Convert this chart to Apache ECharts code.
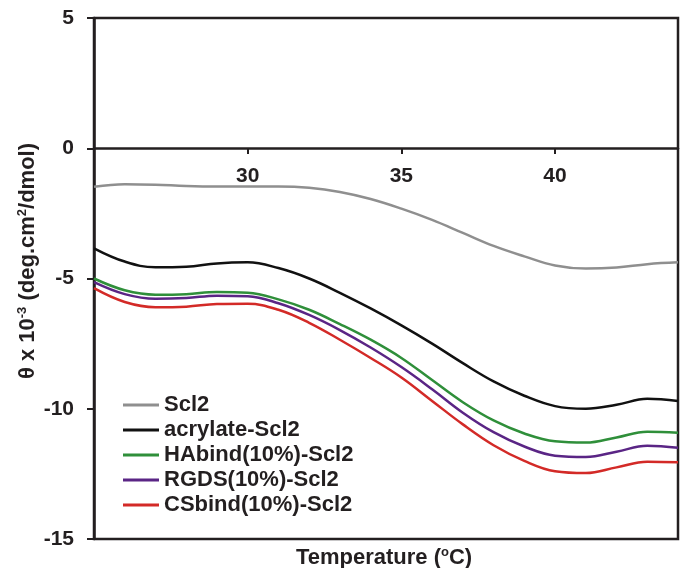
<!DOCTYPE html>
<html>
<head>
<meta charset="utf-8">
<script src="https://cdn.jsdelivr.net/npm/echarts@6/dist/echarts.min.js"></script>
<style>
  html, body { margin: 0; padding: 0; background: #fff; }
  #chart-container { width: 683px; height: 568px; }
</style>
</head>
<body>
<div id="chart-container"></div>
<script>
// temperature (oC), one reading per degree
var temps = [25, 26, 27, 28, 29, 30, 31, 32, 33, 34, 35, 36, 37, 38, 39, 40, 41, 42, 43, 44];

var scl2 = [-1.48, -1.38, -1.40, -1.45, -1.47, -1.47, -1.47, -1.52, -1.68, -1.95,
            -2.32, -2.75, -3.25, -3.75, -4.15, -4.5, -4.62, -4.58, -4.45, -4.38];
var acrylate = [-3.84, -4.35, -4.57, -4.55, -4.42, -4.38, -4.6, -5.0, -5.55, -6.15,
                -6.8, -7.5, -8.25, -8.95, -9.5, -9.9, -10.0, -9.85, -9.62, -9.7];
var habind = [-5.0, -5.45, -5.62, -5.6, -5.52, -5.55, -5.8, -6.2, -6.75, -7.35,
              -8.05, -8.9, -9.75, -10.45, -10.95, -11.25, -11.3, -11.1, -10.88, -10.92];
var rgds = [-5.14, -5.6, -5.78, -5.75, -5.66, -5.68, -5.95, -6.4, -6.98, -7.65,
            -8.4, -9.25, -10.15, -10.9, -11.45, -11.8, -11.85, -11.65, -11.42, -11.5];
var csbind = [-5.37, -5.9, -6.1, -6.08, -5.98, -5.97, -6.2, -6.7, -7.35, -8.05,
              -8.8, -9.7, -10.6, -11.4, -12.0, -12.4, -12.47, -12.25, -12.03, -12.05];

var names = ['Scl2', 'acrylate-Scl2', 'HAbind(10%)-Scl2', 'RGDS(10%)-Scl2', 'CSbind(10%)-Scl2'];
var colors = ['#8f8f8f', '#111111', '#2f8f3a', '#5a2585', '#d32a27'];
var values = [scl2, acrylate, habind, rgds, csbind];

var ink = '#231f20';
var font = 'Arial, "Liberation Sans", sans-serif';
var fs = 21;

function pairs(arr) {
    return temps.map(function (t, i) { return [t, arr[i]]; });
}

var series = names.map(function (n, i) {
    return {
        name: n,
        type: 'line',
        data: pairs(values[i]),
        smooth: 0.4,
        symbol: 'none',
        lineStyle: { color: colors[i], width: 2.5 },
        itemStyle: { color: colors[i] },
        z: 3
    };
});

var richText = {
    a: { fill: ink, color: ink, fontSize: 22, fontWeight: 'bold', fontFamily: font, lineHeight: 24 },
    s: { fill: ink, color: ink, fontSize: 13, fontWeight: 'bold', fontFamily: font, verticalAlign: 'top', lineHeight: 24 }
};

var myChart = echarts.init(document.getElementById('chart-container'), null, { renderer: 'canvas' });

var option = {
    animation: false,
    grid: {
        left: 94, right: 5, top: 18, bottom: 29,
        show: true, borderColor: ink, borderWidth: 2.5, backgroundColor: 'transparent'
    },
    legend: {
        orient: 'vertical',
        left: 118,
        top: 389,
        itemWidth: 36,
        itemHeight: 14,
        itemGap: 3,
        icon: 'path://M0,6 L36,6 L36,9 L0,9 Z',
        textStyle: { color: ink, fontSize: 22, fontWeight: 'bold', fontFamily: font },
        data: names
    },
    xAxis: {
        type: 'value',
        min: 25, max: 44, interval: 5,
        offset: -391,
        axisLine: { onZero: false, lineStyle: { color: ink, width: 2.5 } },
        axisTick: { show: true, length: 6, lineStyle: { color: ink, width: 2 } },
        axisLabel: {
            color: ink, fontSize: fs, fontWeight: 'bold', fontFamily: font,
            margin: 18, showMinLabel: false, showMaxLabel: false
        },
        splitLine: { show: false }
    },
    yAxis: {
        type: 'value',
        min: -15, max: 5, interval: 5,
        axisLine: { show: true, lineStyle: { color: ink, width: 2.5 } },
        axisTick: { show: true, length: 7, lineStyle: { color: ink, width: 2 } },
        axisLabel: { color: ink, fontSize: fs, fontWeight: 'bold', fontFamily: font, margin: 20 },
        splitLine: { show: false }
    },
    graphic: [{
        type: 'text',
        x: 384,
        y: 558,
        style: {
            text: '{a|Temperature (}{s|o}{a|C)}',
            align: 'center',
            verticalAlign: 'middle',
            rich: richText
        }
    }, {
        type: 'text',
        x: 28,
        y: 261,
        rotation: Math.PI / 2,
        style: {
            text: '{a|θ x 10}{s|-3}{a| (deg.cm}{s|2}{a|/dmol)}',
            align: 'center',
            verticalAlign: 'middle',
            rich: richText
        }
    }],
    series: series
};

myChart.setOption(option);
window.addEventListener('resize', myChart.resize);
</script>
</body>
</html>
